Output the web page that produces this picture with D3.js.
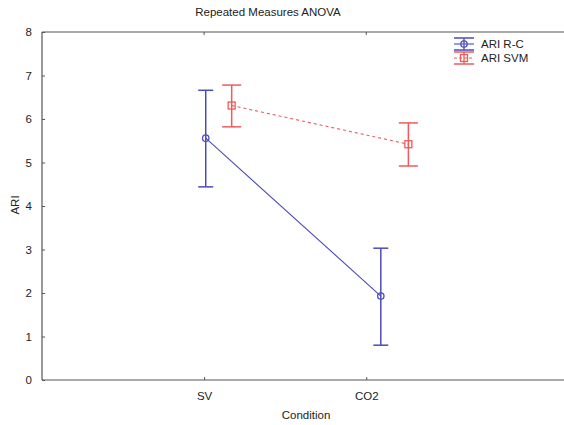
<!DOCTYPE html>
<html>
<head>
<meta charset="utf-8">
<script src="https://d3js.org/d3.v7.min.js"></script>
<style>
  body { margin: 0; background: #fff; }
  text { font-family: "Liberation Sans", Arial, sans-serif; fill: #222; }
</style>
</head>
<body>
<svg id="chart" width="564" height="425"></svg>
<script>
// data
var conditions = ["SV", "CO2"];
var seriesNames = ["ARI R-C", "ARI SVM"];
var meansRC = [5.56, 1.93];
var lowerRC = [4.44, 0.80];
var upperRC = [6.66, 3.03];
var meansSVM = [6.31, 5.42];
var lowerSVM = [5.82, 4.92];
var upperSVM = [6.78, 5.91];
// horizontal placement of each point, in condition units (statistica nudges them)
var xPosRC = [1.01, 2.09];
var xPosSVM = [1.17, 2.26];
var yTicks = [0, 1, 2, 3, 4, 5, 6, 7, 8];

var series = [
  { name: seriesNames[0], mean: meansRC, lo: lowerRC, hi: upperRC, xs: xPosRC,
    color: "#4b4bb8", dash: null, marker: "circle", cap: 15 },
  { name: seriesNames[1], mean: meansSVM, lo: lowerSVM, hi: upperSVM, xs: xPosSVM,
    color: "#f05a5a", dash: "3,3", marker: "square", cap: 19 }
];

var svg = d3.select("#chart");
var mLeft = 42, mTop = 32, mBottom = 380, mRight = 564;
var fs = 11.5;

var x = d3.scaleLinear().domain([0, 3.22]).range([mLeft, mRight]);
var y = d3.scaleLinear().domain([0, 8]).range([mBottom, mTop]);

// frame: left, top, bottom (right side is cut off)
var frame = svg.append("g").attr("stroke", "#555").attr("stroke-width", 1.2).attr("fill", "none");
frame.append("line").attr("x1", mLeft).attr("x2", mLeft).attr("y1", mTop).attr("y2", mBottom);
frame.append("line").attr("x1", mLeft).attr("x2", mRight).attr("y1", mTop).attr("y2", mTop);
frame.append("line").attr("x1", mLeft).attr("x2", mRight).attr("y1", mBottom).attr("y2", mBottom);

// y axis, ticks pointing inwards
var yAxis = d3.axisLeft(y).tickValues(yTicks).tickSize(-3).tickPadding(10).tickFormat(d3.format("d"));
var gy = svg.append("g").attr("transform", "translate(" + mLeft + ",0)").call(yAxis);
gy.select(".domain").remove();
gy.selectAll("line").attr("stroke", "#555");
gy.selectAll("text").attr("font-size", fs).style("font-family", "Liberation Sans, Arial, sans-serif").attr("fill", "#222");

// x axis
var xAxis = d3.axisBottom(x).tickValues([1, 2]).tickSize(-3).tickPadding(12)
  .tickFormat(function(d) { return conditions[d - 1]; });
var gx = svg.append("g").attr("transform", "translate(0," + mBottom + ")").call(xAxis);
gx.select(".domain").remove();
gx.selectAll("line").attr("stroke", "#555");
gx.selectAll("text").attr("font-size", fs).style("font-family", "Liberation Sans, Arial, sans-serif").attr("fill", "#222");

// top ticks
svg.append("g").selectAll("line").data([1, 2]).enter().append("line")
  .attr("x1", function(d) { return x(d); }).attr("x2", function(d) { return x(d); })
  .attr("y1", mTop).attr("y2", mTop + 3).attr("stroke", "#555");

// titles
svg.append("text").attr("x", 268).attr("y", 16).attr("text-anchor", "middle")
  .attr("font-size", fs).text("Repeated Measures ANOVA");
svg.append("text").attr("x", 306).attr("y", 419).attr("text-anchor", "middle")
  .attr("font-size", fs).text("Condition");
svg.append("text").attr("transform", "translate(19,205) rotate(-90)").attr("text-anchor", "middle")
  .attr("font-size", fs).text("ARI");

function drawMarker(g, type, cx, cy, color) {
  if (type === "circle") {
    g.append("circle").attr("cx", cx).attr("cy", cy).attr("r", 3.2)
      .attr("fill", "none").attr("stroke", color).attr("stroke-width", 1.3);
  } else {
    g.append("rect").attr("x", cx - 3.5).attr("y", cy - 3.5).attr("width", 7).attr("height", 7)
      .attr("fill", "none").attr("stroke", color).attr("stroke-width", 1.3);
  }
}

series.forEach(function(s) {
  var g = svg.append("g");
  var pts = s.mean.map(function(m, i) { return [s.xs[i], m]; });
  var line = d3.line().x(function(d) { return x(d[0]); }).y(function(d) { return y(d[1]); });
  g.append("path").attr("d", line(pts)).attr("fill", "none").attr("stroke", s.color)
    .attr("stroke-width", 1.1).attr("stroke-dasharray", s.dash);
  s.mean.forEach(function(m, i) {
    var cx = x(s.xs[i]);
    g.append("line").attr("x1", cx).attr("x2", cx).attr("y1", y(s.lo[i])).attr("y2", y(s.hi[i]))
      .attr("stroke", s.color).attr("stroke-width", 1.5);
    [s.lo[i], s.hi[i]].forEach(function(v) {
      g.append("line").attr("x1", cx - s.cap / 2).attr("x2", cx + s.cap / 2)
        .attr("y1", y(v)).attr("y2", y(v)).attr("stroke", s.color).attr("stroke-width", 1.5);
    });
    drawMarker(g, s.marker, cx, y(m), s.color);
  });
});

// legend
var legend = svg.append("g");
series.forEach(function(s, i) {
  var cy = 44 + i * 14, cx = 464;
  var lg = legend.append("g");
  lg.append("line").attr("x1", cx - 10).attr("x2", cx + 10).attr("y1", cy).attr("y2", cy)
    .attr("stroke", s.color).attr("stroke-width", 1.1).attr("stroke-dasharray", s.dash ? "3,2" : null);
  lg.append("line").attr("x1", cx).attr("x2", cx).attr("y1", cy - 6).attr("y2", cy + 6)
    .attr("stroke", s.color).attr("stroke-width", 1.3);
  [cy - 6, cy + 6].forEach(function(yy) {
    lg.append("line").attr("x1", cx - 10).attr("x2", cx + 10).attr("y1", yy).attr("y2", yy)
      .attr("stroke", s.color).attr("stroke-width", 1.5);
  });
  drawMarker(lg, s.marker, cx, cy, s.color);
  lg.append("text").attr("x", 481).attr("y", cy + 4).attr("font-size", fs).text(s.name);
});
</script>
</body>
</html>
